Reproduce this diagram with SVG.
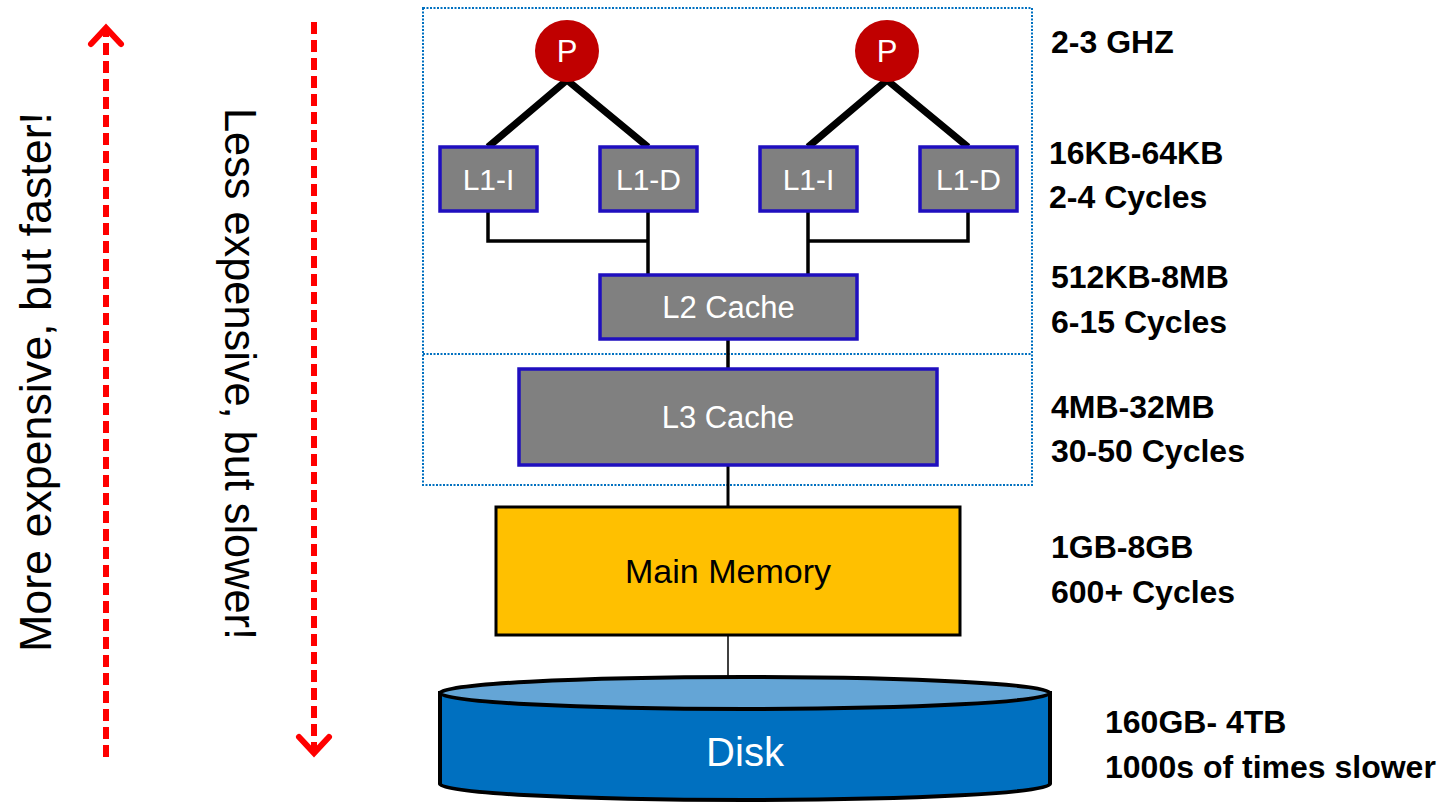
<svg xmlns="http://www.w3.org/2000/svg" width="1447" height="805" viewBox="0 0 1447 805">
<style>
.cache{fill:#808080;stroke:#1f0fbf;stroke-width:3.5}
.wt{fill:#ffffff;font-family:"Liberation Sans",Arial,sans-serif;text-anchor:middle}
.lbl{fill:#000000;font-family:"Liberation Sans",Arial,sans-serif;font-weight:bold;font-size:32px}
.side{fill:#000000;font-family:"Liberation Sans",Arial,sans-serif;font-size:45px}
.arr{fill:none;stroke:#ff0000;stroke-width:6}
.dash{stroke-dasharray:12 6}
.dot{fill:none;stroke:#0070c0;stroke-width:2;stroke-dasharray:2 1.5}
</style>
<rect width="1447" height="805" fill="#ffffff"/>

<g id="groups">
<rect class="dot" x="423" y="8" width="609" height="477"/>
<line class="dot" x1="423" y1="354" x2="1032" y2="354"/>
</g>

<g id="side-arrows">
<line class="arr dash" x1="106" y1="757" x2="106" y2="30"/>
<path d="M91,44 L106,28 L121,44" class="arr" stroke-linecap="round"/>
<text class="side" transform="translate(51,652) rotate(-90)" textLength="540" lengthAdjust="spacingAndGlyphs">More expensive, but faster!</text>
<line class="arr dash" x1="314" y1="22" x2="314" y2="750"/>
<path d="M299,737 L314,753 L329,737" class="arr" stroke-linecap="round"/>
<text class="side" transform="translate(225,108) rotate(90)" textLength="532" lengthAdjust="spacingAndGlyphs">Less expensive, but slower!</text>
</g>

<g id="connectors" fill="none" stroke="#000000">
<path d="M488,147 L567,80 L648,147" stroke-width="7"/>
<path d="M808,147 L887,80 L968,147" stroke-width="7"/>
<path d="M488,211 L488,241 L648,241 M648,211 L648,275" stroke-width="3.5"/>
<path d="M968,211 L968,241 L808,241 M808,211 L808,275" stroke-width="3.5"/>
<line x1="728" y1="339" x2="728" y2="369" stroke-width="3.5"/>
<line x1="728" y1="465" x2="728" y2="507" stroke-width="3"/>
<line x1="728" y1="635" x2="728" y2="678" stroke-width="1.5"/>
</g>

<g id="p1">
<ellipse cx="567" cy="51" rx="32" ry="31" fill="#c00000"/>
<text class="wt" x="567" y="62" font-size="31">P</text>
</g>
<g id="p2">
<ellipse cx="887" cy="51" rx="32" ry="31" fill="#c00000"/>
<text class="wt" x="887" y="62" font-size="31">P</text>
</g>

<g id="l1i-1">
<rect class="cache" x="440" y="147" width="97" height="64"/>
<text class="wt" x="488.5" y="190" font-size="30">L1-I</text>
</g>
<g id="l1d-1">
<rect class="cache" x="600" y="147" width="97" height="64"/>
<text class="wt" x="648.5" y="190" font-size="30">L1-D</text>
</g>
<g id="l1i-2">
<rect class="cache" x="760" y="147" width="97" height="64"/>
<text class="wt" x="808.5" y="190" font-size="30">L1-I</text>
</g>
<g id="l1d-2">
<rect class="cache" x="920" y="147" width="97" height="64"/>
<text class="wt" x="968.5" y="190" font-size="30">L1-D</text>
</g>

<g id="l2">
<rect class="cache" x="600" y="275" width="257" height="64"/>
<text class="wt" x="728.5" y="318" font-size="31">L2 Cache</text>
</g>
<g id="l3">
<rect class="cache" x="519" y="369" width="418" height="96"/>
<text class="wt" x="728" y="428" font-size="31">L3 Cache</text>
</g>

<g id="main-memory">
<rect x="496" y="507" width="464" height="128" fill="#ffc000" stroke="#000000" stroke-width="3"/>
<text x="728" y="583" font-size="34" fill="#000000" font-family="Liberation Sans, Arial, sans-serif" text-anchor="middle">Main Memory</text>
</g>

<g id="disk">
<path d="M440,693 L440,784 A305,16 0 0 0 1050,784 L1050,693 Z" fill="#0070c0" stroke="#000000" stroke-width="4"/>
<ellipse cx="745" cy="693" rx="305" ry="16" fill="#64a5d6" stroke="#000000" stroke-width="4"/>
<text class="wt" x="745" y="766" font-size="40">Disk</text>
</g>

<g id="labels">
<text class="lbl" x="1051" y="53">2-3 GHZ</text>
<text class="lbl" x="1049" y="164">16KB-64KB</text>
<text class="lbl" x="1049" y="208">2-4 Cycles</text>
<text class="lbl" x="1051" y="288">512KB-8MB</text>
<text class="lbl" x="1051" y="333">6-15 Cycles</text>
<text class="lbl" x="1051" y="418">4MB-32MB</text>
<text class="lbl" x="1051" y="462">30-50 Cycles</text>
<text class="lbl" x="1051" y="558">1GB-8GB</text>
<text class="lbl" x="1051" y="603">600+ Cycles</text>
<text class="lbl" x="1105" y="733">160GB- 4TB</text>
<text class="lbl" x="1105" y="778">1000s of times slower</text>
</g>
</svg>
